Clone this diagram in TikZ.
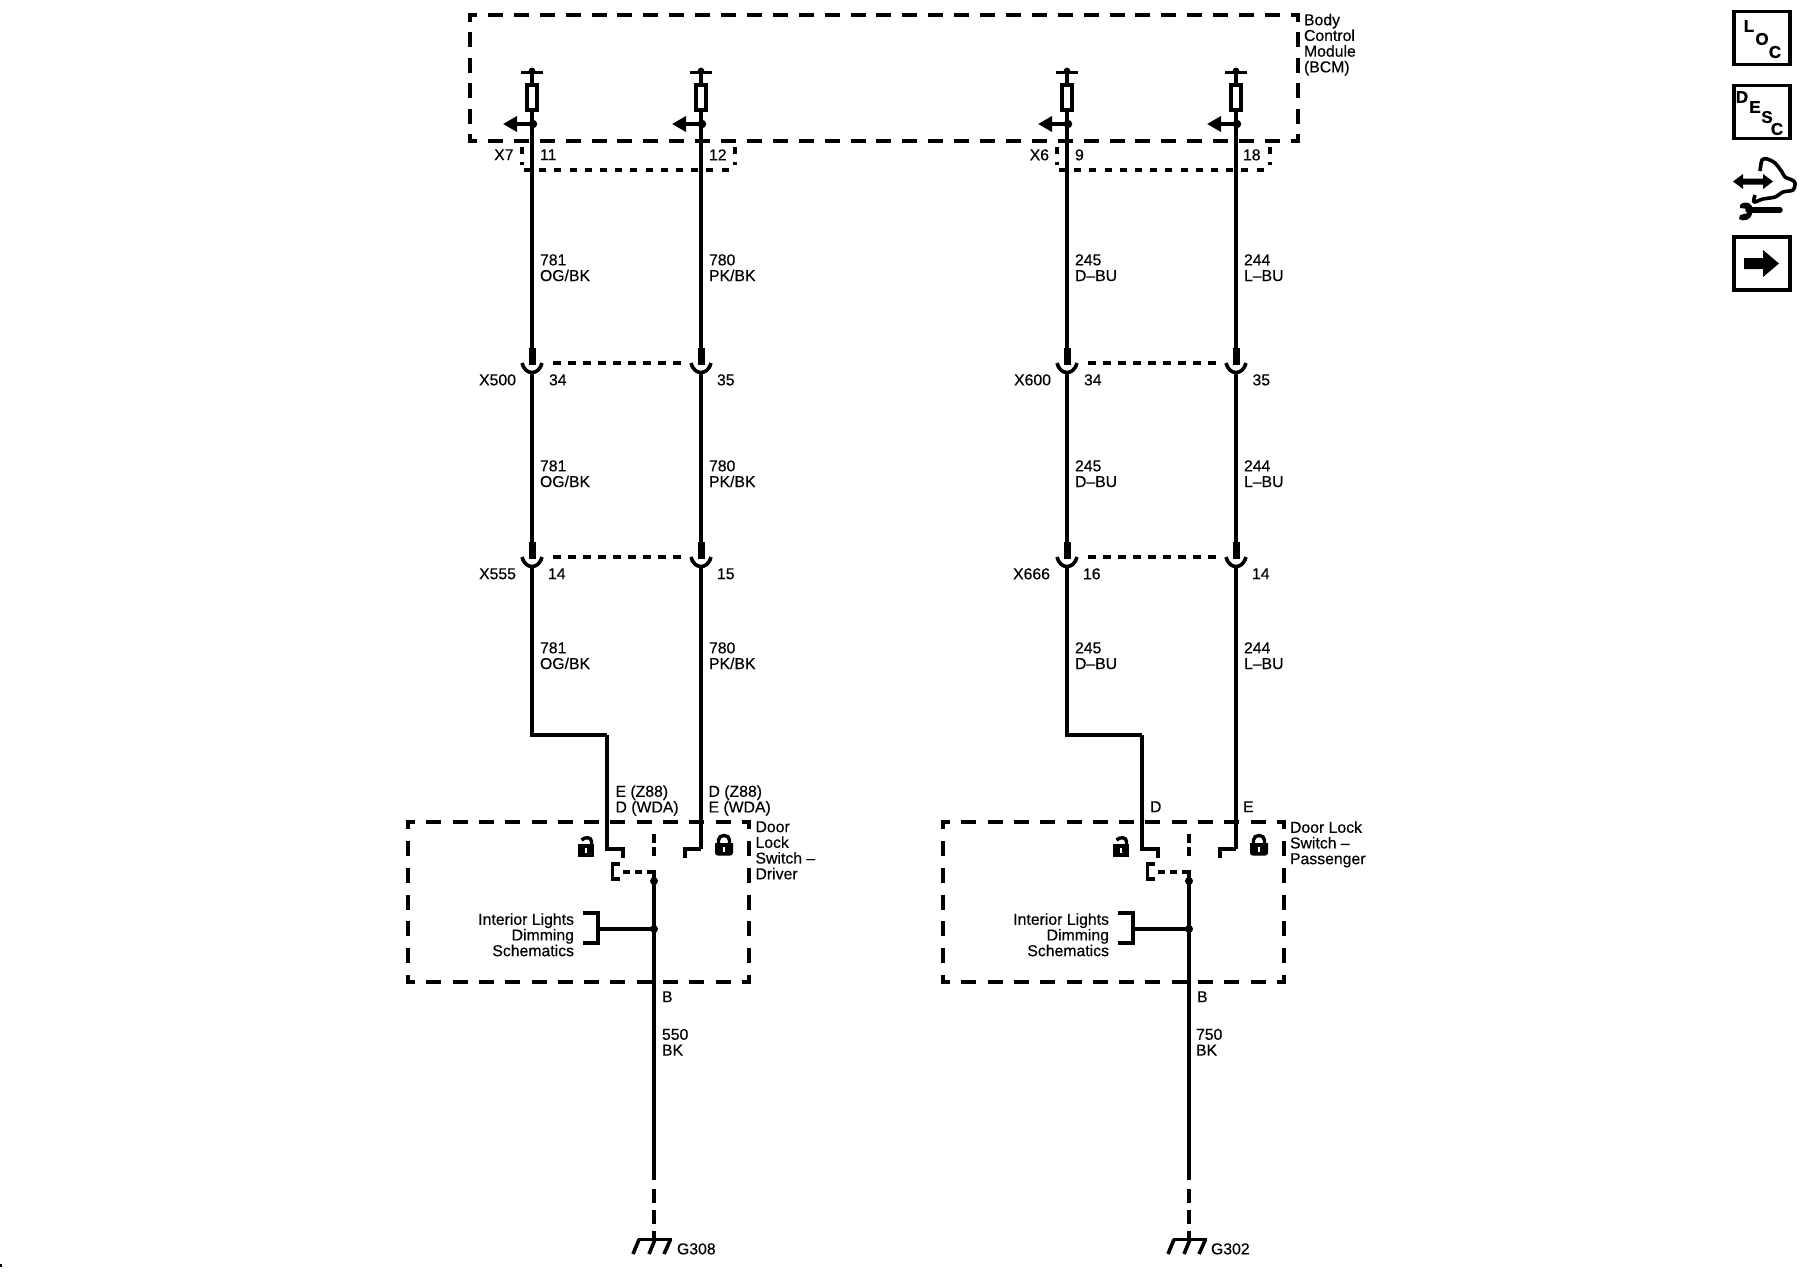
\documentclass[tikz,border=0pt]{standalone}
\usepackage{fontspec}
\setmainfont[FakeBold=0.35]{Liberation Sans}
\newfontfamily\iconfont[FakeBold=1.0]{Liberation Sans Bold}
\usetikzlibrary{arrows.meta}
\tikzset{
  wire/.style={line width=3.9pt,line join=miter},
  plug/.style={line width=7pt},
  cup/.style={line width=3.6pt},
  thin wire/.style={line width=3.7pt},
  lab/.style={inner sep=0pt,outer sep=0pt,font=\fontsize{15.8}{15.7}\selectfont,align=left,anchor=north west,yshift=5.7pt},
  labr/.style={lab,align=right,anchor=north east},
  modside/.style={line width=3.9pt,dash pattern=on 15pt off #1pt,dash phase=6pt,shorten <=-2pt,shorten >=-2pt},
  conndash/.style={line width=3.7pt,dash pattern=on 7pt off 8.2pt},
  linkdash/.style={line width=3.7pt,dash pattern=on 8pt off 7pt},
  fuse/.style={draw,line width=3.8pt,minimum width=9.5pt,minimum height=25.5pt,inner sep=0pt,fill=white},
  dotn/.style={circle,fill=black,inner sep=0pt,minimum size=#1},
  sidearrow/.style={line width=3.7pt,-{Triangle[length=14pt,width=15pt]}},
  iconbox/.style={draw,line width=3.6pt,minimum width=56pt,minimum height=53pt,inner sep=0pt},
  iconletter/.style={inner sep=0pt,font=\iconfont\fontsize{17}{17}\selectfont},
  lockopen/.pic={
    \fill (-8,7) rectangle (8,-6);
    \draw[line width=3.4pt] (5.5,-6) -- (5.5,-8.5) .. controls (5.5,-13) and (-1,-13.5) .. (-4.5,-10);
    \draw[white,line width=1.4pt] (0,-2) -- (0,3);
  },
  lockclosed/.pic={
    \fill (-9,-6) -- (9,-6) -- (9,4) .. controls (9,6) and (7,6.5) .. (6,6.5) -- (-6,6.5) .. controls (-7,6.5) and (-9,6) .. (-9,4) -- cycle;
    \draw[line width=3.4pt] (-5.5,-6) -- (-5.5,-9) .. controls (-5.5,-15) and (5.5,-15) .. (5.5,-9) -- (5.5,-6);
    \draw[white,line width=1.6pt] (0,-2) -- (0,3);
  },
}
\begin{document}
\begin{tikzpicture}[x=1pt,y=-1pt]
\useasboundingbox (0,0) rectangle (1800,1280);

% Body Control Module
\coordinate (bTL) at (470,15); \coordinate (bTR) at (1298,15);
\coordinate (bBL) at (470,141); \coordinate (bBR) at (1298,141);
\draw[modside=10.9] (bTL) -- (bTR);
\draw[modside=10.9] (bBL) -- (bBR);
\draw[modside=10.4] (bTL) -- (bBL);
\draw[modside=10.4] (bTR) -- (bBR);
\node[lab] (bcm) at (1304,19.5) {Body\\Control\\Module\\(BCM)};

% wire labels
\def\wA{781\\OG/BK}\def\wB{780\\PK/BK}\def\wC{245\\D–BU}\def\wD{244\\L–BU}
\foreach \n/\x/\w in {1/532/\wA,2/701/\wB,3/1067/\wC,4/1236/\wD}{
  \coordinate (top\n) at (\x,72);
  \node[dotn=6.8pt] (tdot\n) at (\x,71) {};
  \draw[line width=3.7pt] (\x-11,72.5) -- (\x+11,72.5);
  \node[fuse] (fuse\n) at (\x,97.5) {};
  \draw[line width=3.7pt] (top\n) -- (fuse\n.north);
  \node[dotn=8.5pt] (jn\n) at (\x+1,124) {};
  \coordinate (ar\n) at (\x-29,124);
  \draw[sidearrow] (jn\n.center) -- (ar\n);
  % cups
  \coordinate (wp1\n) at (\x,348); \coordinate (wc1\n) at (\x,365);
  \coordinate (wb1\n) at (\x,372);
  \coordinate (wp2\n) at (\x,542); \coordinate (wc2\n) at (\x,559);
  \coordinate (wb2\n) at (\x,566);
  \draw[wire] (fuse\n.south) -- (wp1\n);
  \draw[plug] (wp1\n) -- (wc1\n);
  \draw[wire] (wb1\n) -- (wp2\n);
  \draw[plug] (wp2\n) -- (wc2\n);
  \foreach \r/\yy in {1/363,2/557}{
    \coordinate (cl\r\n) at (\x-10,\yy);
    \coordinate (cr\r\n) at (\x+10,\yy);
    \draw[cup] (cl\r\n) .. controls (\x-8,\yy+7) and (\x-4,\yy+9.5) .. (\x,\yy+9.5)
      .. controls (\x+4,\yy+9.5) and (\x+8,\yy+7) .. (cr\r\n);
  }
  \node[lab] (wl1\n) at (\x+8,260) {\w};
  \node[lab] (wl2\n) at (\x+8,466) {\w};
  \node[lab] (wl3\n) at (\x+8,648) {\w};
}

% dashed links between cups
\foreach \a/\b in {1/2,3/4}{
  \foreach \r in {1,2}{
    \draw[linkdash,shorten <=11pt,shorten >=10pt] (cr\r\a) -- (cl\r\b);
  }
}

% X7 and X6 connector outlines
\foreach \k/\dx in {a/0,b/535}{
  \begin{scope}[xshift=\dx pt]
    \coordinate (cL1\k) at (522,147); \coordinate (cL2\k) at (522,165);
    \coordinate (cR1\k) at (735,147); \coordinate (cR2\k) at (735,165);
    \coordinate (cB1\k) at (524,170); \coordinate (cB2\k) at (732,170);
    \draw[conndash] (cL1\k) -- (cL2\k);
    \draw[conndash] (cR1\k) -- (cR2\k);
    \draw[conndash] (cB1\k) -- (cB2\k);
  \end{scope}
}
\node[labr] (x7) at (513.5,155) {X7};
\node[lab] (p11) at (540,155) {11};
\node[lab] (p12) at (709,155) {12};
\node[labr] (x6) at (1049,155) {X6};
\node[lab] (p9) at (1075,155) {9};
\node[lab] (p18) at (1243,155) {18};

\node[labr] (x500) at (516,380) {X500};
\node[lab] (p34a) at (549,380) {34};
\node[lab] (p35a) at (717,380) {35};
\node[labr] (x600) at (1051,380) {X600};
\node[lab] (p34b) at (1084,380) {34};
\node[lab] (p35b) at (1252.5,380) {35};

\node[labr] (x555) at (516,574) {X555};
\node[lab] (p14a) at (548,574) {14};
\node[lab] (p15a) at (717,574) {15};
\node[labr] (x666) at (1050,574) {X666};
\node[lab] (p16b) at (1083,574) {16};
\node[lab] (p14b) at (1252,574) {14};

% switches
\foreach \s/\dx in {L/0,R/535}{
  \begin{scope}[xshift=\dx pt]
    \coordinate (sTL\s) at (408,822); \coordinate (sTR\s) at (749,822);
    \coordinate (sBL\s) at (408,982); \coordinate (sBR\s) at (749,982);
    \draw[modside=11.3] (sTL\s) -- (sTR\s);
    \draw[modside=11.3] (sBL\s) -- (sBR\s);
    \draw[modside=11.83] (sTL\s) -- (sBL\s);
    \draw[modside=11.83] (sTR\s) -- (sBR\s);
    % left input
    \coordinate (kA\s) at (532,735); \coordinate (kB\s) at (607,735);
    \coordinate (kC\s) at (607,849); \coordinate (kD\s) at (623,849);
    \coordinate (kE\s) at (623,858);
    \coordinate (rA\s) at (701,849); \coordinate (rB\s) at (685,849);
    \coordinate (rC\s) at (685,858);
    \draw[wire] (kB\s) -- (kC\s) -- (kD\s) -- (kE\s);
    \draw[wire] (rA\s) -- (rB\s) -- (rC\s);
    % common line
    \coordinate (mA\s) at (654,834); \coordinate (mB\s) at (654,856);
    \coordinate (mC\s) at (654,870);
    \node[dotn=8pt] (mD\s) at (654,881) {};
    \node[dotn=8pt] (mE\s) at (654,929) {};
    \coordinate (mF\s) at (654,1180);
    \coordinate (mG\s) at (654,1189); \coordinate (mH\s) at (654,1240);
    \draw[thin wire,dash pattern=on 9pt off 4pt] (mA\s) -- (mB\s);
    \draw[thin wire] (mC\s) -- (mD\s.center);
    \draw[wire] (mD\s.center) -- (mF\s);
    \draw[wire,dash pattern=on 14pt off 7pt] (mG\s) -- (mH\s);
    % open contact
    \coordinate (eT\s) at (620,864); \coordinate (eTL\s) at (612.5,864);
    \coordinate (eBL\s) at (612.5,879); \coordinate (eB\s) at (620,879);
    \draw[line width=3.8pt] (eT\s) -- (eTL\s) -- (eBL\s) -- (eB\s);
    \coordinate (dA\s) at (623,872); \coordinate (dB\s) at (652,872);
    \draw[line width=3.4pt,dash pattern=on 7pt off 5pt] (dA\s) -- (dB\s);
    % bracket
    \coordinate (brA\s) at (583,913); \coordinate (brB\s) at (598,913);
    \coordinate (brC\s) at (598,943); \coordinate (brD\s) at (583,943);
    \coordinate (brM\s) at (598,929);
    \draw[line width=3.7pt] (brA\s) -- (brB\s) -- (brC\s) -- (brD\s);
    \draw[line width=3.9pt] (brM\s) -- (mE\s.center);
    \node[labr] (il\s) at (574,919) {Interior Lights\\Dimming\\Schematics};
    % locks
    \pic at (586,850) {lockopen};
    \pic at (724,849) {lockclosed};
    % ground
    \coordinate (gA\s) at (638,1239.5); \coordinate (gB\s) at (671.5,1239.5);
    \draw[line width=3.6pt] (gA\s) -- (gB\s);
    \foreach \bx/\tx in {633/639,649/655,664/670.5}{
      \draw[line width=3.6pt] (\tx,1239.5) -- (\bx,1254);
    }
    \node[lab] (bn\s) at (662,997) {B};
  \end{scope}
}
\draw[wire] (wb21) -- (kAL) -- (kBL);
\draw[wire] (wb22) -- (rAL);
\draw[wire] (wb23) -- (kAR) -- (kBR);
\draw[wire] (wb24) -- (rAR);

\node[lab] (e1) at (615.5,791) {E (Z88)\\D (WDA)};
\node[lab] (d1) at (708.5,791) {D (Z88)\\E (WDA)};
\node[lab] (sw1) at (755.5,827) {Door\\Lock\\Switch –\\Driver};
\node[lab] (d2) at (1150,807) {D};
\node[lab] (e2) at (1243,807) {E};
\node[lab] (sw2) at (1290,827) {Door Lock\\Switch –\\Passenger};
\node[lab] (w550) at (662,1034.5) {550\\BK};
\node[lab] (w750) at (1196,1034.5) {750\\BK};
\node[lab] (g308) at (677,1249) {G308};
\node[lab] (g302) at (1211,1249) {G302};

% icons
\node[iconbox] (loc) at (1762,38) {};
\node[iconletter] at (1749,26) {L};
\node[iconletter] at (1762,39) {O};
\node[iconletter] at (1775,52) {C};
\node[iconbox] (desc) at (1762,112) {};
\node[iconletter] at (1742,97) {D};
\node[iconletter] at (1755,107) {E};
\node[iconletter] at (1767,117) {S};
\node[iconletter] at (1777,129) {C};
\node[iconbox] (nxt) at (1762,263.5) {};
\fill (1744,258) -- (1763,258) -- (1763,250) -- (1779,263.5) -- (1763,277) -- (1763,269) -- (1744,269) -- cycle;
% service icon
\draw[line width=3.6pt,line join=round] plot[smooth,tension=0.5] coordinates {(1760,171) (1762,160) (1767,159) (1775,163) (1782,172) (1785,177) (1792,180) (1795,183) (1793,190) (1783,192) (1775,197) (1763,199) (1754,202) (1755,195)};
\fill (1733,181.5) -- (1743,174) -- (1743,178.5) -- (1763,178.5) -- (1763,174) -- (1773,181.5) -- (1763,189) -- (1763,184.5) -- (1743,184.5) -- (1743,189) -- cycle;
\draw[line width=5.5pt,line cap=round] (1748,210) -- (1780,210);
\fill (1740,205) .. controls (1742,202) and (1749,201) .. (1752,206) -- (1752,214) .. controls (1751,220) and (1743,222) .. (1739,219) -- (1740,215) -- (1748,213) -- (1748,209) -- (1740,208) -- cycle;

% scan specks
\fill (0,1264) rectangle (2,1267);
\end{tikzpicture}
\end{document}
